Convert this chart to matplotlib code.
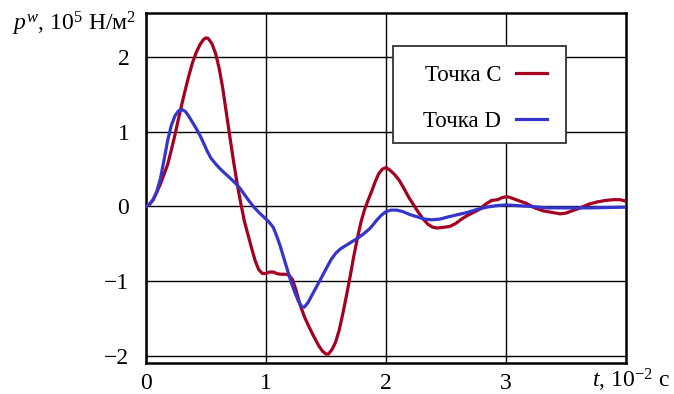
import matplotlib
matplotlib.use('Agg')
import matplotlib.pyplot as plt
from matplotlib.patches import Rectangle

plt.rcParams['font.family'] = ['Liberation Serif', 'DejaVu Serif']
plt.rcParams['mathtext.fontset'] = 'custom'
plt.rcParams['mathtext.rm'] = 'Liberation Serif'
plt.rcParams['mathtext.it'] = 'Liberation Serif:italic'

# point C (red)
t_c = [0, 0.03, 0.06, 0.09, 0.12, 0.15, 0.18, 0.21, 0.24, 0.27, 0.30, 0.33, 0.36,
       0.39, 0.42, 0.45, 0.48, 0.50, 0.52, 0.55, 0.58, 0.61, 0.64, 0.67, 0.70,
       0.73, 0.76, 0.79, 0.82, 0.85, 0.88, 0.91, 0.94, 0.97, 1.00, 1.03, 1.06,
       1.09, 1.12, 1.16, 1.19, 1.22, 1.25, 1.28, 1.32, 1.36, 1.40, 1.44, 1.47,
       1.50, 1.52, 1.55, 1.58, 1.61, 1.64, 1.67, 1.70, 1.73, 1.76, 1.79, 1.82,
       1.85, 1.88, 1.91, 1.94, 1.97, 2.00, 2.03, 2.07, 2.11, 2.15, 2.19, 2.23,
       2.27, 2.31, 2.35, 2.39, 2.43, 2.48, 2.53, 2.58, 2.63, 2.68, 2.73, 2.78,
       2.83, 2.88, 2.93, 2.97, 3.01, 3.05, 3.10, 3.17, 3.24, 3.31, 3.38, 3.45,
       3.50, 3.55, 3.62, 3.69, 3.76, 3.83, 3.90, 3.95, 4.00]
p_c = [0, 0.03, 0.09, 0.19, 0.30, 0.43, 0.56, 0.75, 0.95, 1.17, 1.38, 1.58, 1.77,
       1.94, 2.07, 2.17, 2.24, 2.26, 2.25, 2.18, 2.05, 1.85, 1.58, 1.25, 0.92,
       0.60, 0.30, 0.04, -0.20, -0.38, -0.56, -0.73, -0.85, -0.90, -0.90, -0.88, -0.88,
       -0.90, -0.91, -0.91, -0.92, -0.98, -1.12, -1.30, -1.48, -1.62, -1.75, -1.87, -1.94,
       -1.98, -1.98, -1.92, -1.82, -1.66, -1.44, -1.20, -0.95, -0.68, -0.44, -0.22, -0.05,
       0.08, 0.20, 0.33, 0.44, 0.50, 0.52, 0.49, 0.43, 0.35, 0.24, 0.12, 0.02,
       -0.08, -0.17, -0.24, -0.28, -0.29, -0.28, -0.27, -0.23, -0.17, -0.12, -0.08, -0.04,
       0.03, 0.08, 0.09, 0.12, 0.13, 0.11, 0.08, 0.04, -0.02, -0.06, -0.08, -0.10,
       -0.09, -0.06, -0.02, 0.03, 0.06, 0.08, 0.09, 0.09, 0.07]

# point D (blue)
t_d = [0, 0.03, 0.06, 0.09, 0.12, 0.15, 0.18, 0.21, 0.24, 0.27, 0.30, 0.33, 0.36,
       0.39, 0.42, 0.45, 0.48, 0.51, 0.54, 0.58, 0.62, 0.66, 0.70, 0.74, 0.78,
       0.82, 0.86, 0.90, 0.94, 0.98, 1.02, 1.06, 1.09, 1.12, 1.15, 1.18, 1.21,
       1.24, 1.27, 1.30, 1.32, 1.35, 1.38, 1.42, 1.46, 1.50, 1.54, 1.58, 1.62,
       1.67, 1.72, 1.77, 1.82, 1.87, 1.92, 1.96, 2.00, 2.04, 2.09, 2.14, 2.20,
       2.26, 2.32, 2.38, 2.45, 2.52, 2.60, 2.68, 2.76, 2.84, 2.92, 3.00, 3.10,
       3.20, 3.35, 3.50, 3.70, 4.00]
p_d = [0, 0.03, 0.09, 0.20, 0.37, 0.62, 0.88, 1.08, 1.21, 1.28, 1.30, 1.27, 1.20,
       1.12, 1.04, 0.95, 0.85, 0.74, 0.65, 0.57, 0.50, 0.44, 0.38, 0.32, 0.25,
       0.16, 0.07, -0.01, -0.08, -0.14, -0.20, -0.28, -0.40, -0.54, -0.70, -0.86, -1.02,
       -1.15, -1.27, -1.35, -1.35, -1.29, -1.20, -1.08, -0.96, -0.84, -0.72, -0.63, -0.57,
       -0.52, -0.47, -0.42, -0.36, -0.29, -0.19, -0.12, -0.07, -0.05, -0.05, -0.07, -0.11,
       -0.14, -0.17, -0.18, -0.17, -0.14, -0.11, -0.08, -0.04, -0.01, 0.01, 0.02, 0.01,
       0.0, -0.02, -0.02, -0.02, -0.01]

labels = ['Точка C', 'Точка D']
colors = ['#a50021', '#3535cc']
x_ticks = [0, 1, 2, 3]
y_ticks = [-2, -1, 0, 1, 2]
y_tick_labels = ['\u22122', '\u22121', '0', '1', '2']

W, H = 674, 394
fig = plt.figure(figsize=(W / 100, H / 100), dpi=100)
ax = fig.add_axes([146 / W, 1 - 363 / H, 480 / W, 350.5 / H])

ax.plot(t_c, p_c, color=colors[0], lw=2.3, label=labels[0], zorder=3)
ax.plot(t_d, p_d, color=colors[1], lw=2.3, label=labels[1], zorder=3)

ax.set_xlim(0, 4)
ax.set_ylim(-2.1, 2.6)
ax.set_xticks(x_ticks)
ax.set_yticks(y_ticks)
ax.set_yticklabels(y_tick_labels)
ax.tick_params(length=0, labelsize=17)
ax.tick_params(axis='y', pad=12)
ax.tick_params(axis='x', pad=7)
ax.grid(True, color='black', lw=1.0)
ax.set_axisbelow(True)
for s in ax.spines.values():
    s.set_linewidth(1.8)

# legend frame is wider than its content, so draw it separately
frame = Rectangle((393 / W, 1 - 143 / H), 173 / W, 97 / H, transform=fig.transFigure,
                  facecolor='white', edgecolor='#333333', lw=1.3, zorder=4,
                  clip_on=False)
ax.add_patch(frame)

leg = ax.legend(loc='upper right', bbox_to_anchor=(563 / W, 1 - 49 / H),
                bbox_transform=fig.transFigure, borderaxespad=0,
                markerfirst=False, fontsize=16.5, frameon=False,
                handlelength=1.35, handletextpad=0.65, labelspacing=1.1,
                borderpad=0.7)
leg.set_zorder(5)

fig.text(12 / W, 1 - 31 / H, r'$p^{w}$, 10$^{5}$ Н/м$^{2}$', fontsize=17,
         ha='left', va='baseline')
fig.text(670 / W, 1 - 388 / H, r'$t$, 10$^{-2}$ с', fontsize=17,
         ha='right', va='baseline')

fig.savefig('out.png', dpi=100)
